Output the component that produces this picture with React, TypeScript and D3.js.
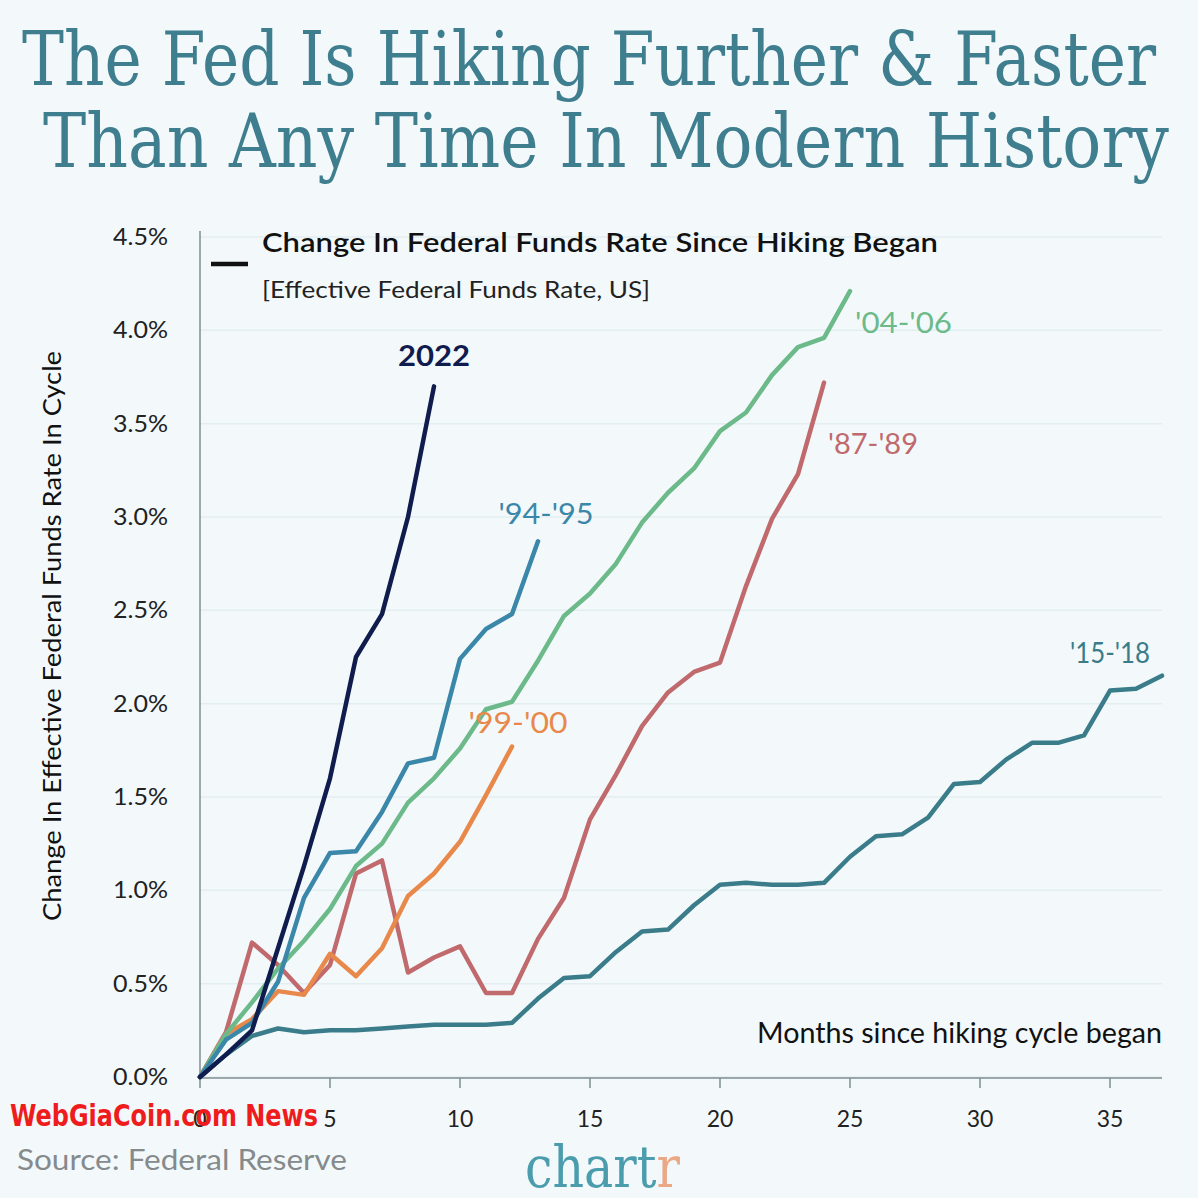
import React from "react";
import * as d3 from "d3";

const W = 1198;
const H = 1198;

const months2022 = [0, 0.12, 0.25, 0.69, 1.13, 1.6, 2.25, 2.48, 3.0, 3.7];
const months9495 = [0, 0.2, 0.29, 0.51, 0.96, 1.2, 1.21, 1.42, 1.68, 1.71, 2.24, 2.4, 2.48, 2.87];
const months0406 = [0, 0.23, 0.4, 0.58, 0.73, 0.9, 1.13, 1.25, 1.47, 1.6, 1.76, 1.97, 2.01, 2.23, 2.47, 2.59, 2.75, 2.97, 3.13, 3.26, 3.46, 3.56, 3.76, 3.91, 3.96, 4.21];
const months8789 = [0, 0.24, 0.72, 0.6, 0.45, 0.6, 1.09, 1.16, 0.56, 0.64, 0.7, 0.45, 0.45, 0.74, 0.96, 1.38, 1.62, 1.88, 2.06, 2.17, 2.22, 2.63, 2.99, 3.23, 3.72];
const months9900 = [0, 0.23, 0.31, 0.46, 0.44, 0.66, 0.54, 0.69, 0.97, 1.09, 1.26, 1.51, 1.77];
const months1518 = [0, 0.12, 0.22, 0.26, 0.24, 0.25, 0.25, 0.26, 0.27, 0.28, 0.28, 0.28, 0.29, 0.42, 0.53, 0.54, 0.67, 0.78, 0.79, 0.92, 1.03, 1.04, 1.03, 1.03, 1.04, 1.18, 1.29, 1.3, 1.39, 1.57, 1.58, 1.7, 1.79, 1.79, 1.83, 2.07, 2.08, 2.15];

const seriesNames = ["'15-'18", "'87-'89", "'99-'00", "'04-'06", "'94-'95", "2022"];
const seriesValues = [months1518, months8789, months9900, months0406, months9495, months2022];
const seriesColors = ["#3b7c8a", "#c06a6d", "#e8894b", "#6cb98a", "#3b87a9", "#0f1c4d"];

const yTicks = [0, 0.5, 1, 1.5, 2, 2.5, 3, 3.5, 4, 4.5];
const xTicks = [0, 5, 10, 15, 20, 25, 30, 35];

const SANS = "Lato, 'Open Sans', 'Noto Sans', sans-serif";
const SLAB = "'DejaVu Serif', serif";

export default function App() {
  const x = d3.scaleLinear().domain([0, 37]).range([200, 1162]);
  const y = d3.scaleLinear().domain([0, 4.5]).range([1077, 237]);
  const line = d3
    .line<number>()
    .x((_, i) => x(i))
    .y((d) => y(d))
    .curve(d3.curveLinear);

  const last = (arr: number[]) => arr[arr.length - 1];

  const labels = [
    { name: "2022", x: x(9), y: y(last(months2022)) - 20, color: "#0f1c4d", weight: 700, size: 29, anchor: "middle", len: 72 },
    { name: "'94-'95", x: x(13) + 8, y: y(last(months9495)) - 17, color: "#3b87a9", weight: 400, size: 28, anchor: "middle", len: 95 },
    { name: "'04-'06", x: x(25) + 5, y: y(last(months0406)) + 42, color: "#6cb98a", weight: 400, size: 28, anchor: "start", len: 97 },
    { name: "'87-'89", x: x(24) + 4, y: y(last(months8789)) + 71, color: "#c06a6d", weight: 400, size: 28, anchor: "start", len: 90 },
    { name: "'99-'00", x: x(12) + 6, y: y(last(months9900)) - 14, color: "#e8894b", weight: 400, size: 28, anchor: "middle", len: 99 },
    { name: "'15-'18", x: x(35.0), y: y(last(months1518)) - 13, color: "#3b7c8a", weight: 400, size: 28, anchor: "middle", len: 80 },
  ];

  return (
    <svg
      width={W}
      height={H}
      viewBox={`0 0 ${W} ${H}`}
      style={{ position: "absolute", left: 0, top: 0, display: "block" }}
    >
      <rect x={0} y={0} width={W} height={H} fill="#f3f9fb" />

      {/* Title */}
      <text x={22} y={85} fontFamily={SLAB} fontSize={75} fill="#3e7e8f" textLength={1134} lengthAdjust="spacingAndGlyphs">
        The Fed Is Hiking Further &amp; Faster
      </text>
      <text x={43} y={167} fontFamily={SLAB} fontSize={75} fill="#3e7e8f" textLength={1126} lengthAdjust="spacingAndGlyphs">
        Than Any Time In Modern History
      </text>

      {/* Gridlines */}
      {yTicks.map((t) => (
        <line key={"g" + t} x1={x(0)} x2={x(37)} y1={y(t)} y2={y(t)} stroke="#e3eef1" strokeWidth={1.5} />
      ))}

      {/* Y axis */}
      <line x1={x(0)} x2={x(0)} y1={y(4.5) - 6} y2={y(0)} stroke="#7f8e92" strokeWidth={1.5} />
      {yTicks.map((t) => (
        <text key={"yt" + t} x={168} y={y(t) + 8} textAnchor="end" fontFamily={SANS} fontSize={23} fill="#222" textLength={55} lengthAdjust="spacingAndGlyphs">
          {t.toFixed(1) + "%"}
        </text>
      ))}
      <text
        transform={`translate(61, ${636}) rotate(-90)`}
        textAnchor="middle"
        fontFamily={SANS}
        fontSize={25}
        fill="#111"
        textLength={570}
        lengthAdjust="spacingAndGlyphs"
      >
        Change In Effective Federal Funds Rate In Cycle
      </text>

      {/* X axis */}
      <line x1={x(0)} x2={x(37)} y1={y(0) + 1} y2={y(0) + 1} stroke="#7f8e92" strokeWidth={1.5} />
      {xTicks.map((t) => (
        <g key={"xt" + t}>
          <line x1={x(t)} x2={x(t)} y1={y(0) + 1} y2={y(0) + 11} stroke="#7f8e92" strokeWidth={1.5} />
          <text x={x(t)} y={1127} textAnchor="middle" fontFamily={SANS} fontSize={23} fill="#222">
            {t}
          </text>
        </g>
      ))}
      <text x={x(37)} y={1043} textAnchor="end" fontFamily={SANS} fontSize={28} fill="#111" textLength={405} lengthAdjust="spacingAndGlyphs">
        Months since hiking cycle began
      </text>

      {/* Lines */}
      {seriesValues.map((vals, i) => (
        <path
          key={seriesNames[i]}
          d={line(vals) || ""}
          fill="none"
          stroke={seriesColors[i]}
          strokeWidth={4.5}
          strokeLinejoin="round"
          strokeLinecap="round"
        />
      ))}

      {/* Series labels */}
      {labels.map((l) => (
        <text
          key={"l" + l.name}
          x={l.x}
          y={l.y}
          textAnchor={l.anchor as any}
          fontFamily={SANS}
          fontSize={l.size}
          fontWeight={l.weight}
          fill={l.color}
          textLength={l.len}
          lengthAdjust="spacingAndGlyphs"
        >
          {l.name}
        </text>
      ))}

      {/* Legend */}
      <line x1={211} x2={248} y1={264} y2={264} stroke="#111" strokeWidth={4.5} />
      <text x={262} y={252} fontFamily={SANS} fontSize={27} fontWeight={600} fill="#111" textLength={676} lengthAdjust="spacingAndGlyphs">
        Change In Federal Funds Rate Since Hiking Began
      </text>
      <text x={262} y={298} fontFamily={SANS} fontSize={24} fill="#222" textLength={388} lengthAdjust="spacingAndGlyphs">
        [Effective Federal Funds Rate, US]
      </text>

      {/* Footer */}
      <text x={17} y={1170} fontFamily={SANS} fontSize={29} fill="#858a8c" textLength={330} lengthAdjust="spacingAndGlyphs">
        Source: Federal Reserve
      </text>
      <text x={525} y={1187} fontFamily={SLAB} fontSize={58} textLength={155} lengthAdjust="spacingAndGlyphs">
        <tspan fill="#4b9cad">chart</tspan>
        <tspan fill="#eaa886">r</tspan>
      </text>

      {/* Watermark */}
      <text
        x={10}
        y={1126}
        fontFamily="'Liberation Sans Narrow', 'DejaVu Sans Condensed', sans-serif"
        fontWeight={700}
        fontSize={30}
        fill="#ee1c1c"
        textLength={308}
        lengthAdjust="spacingAndGlyphs"
      >
        WebGiaCoin.com News
      </text>
    </svg>
  );
}
